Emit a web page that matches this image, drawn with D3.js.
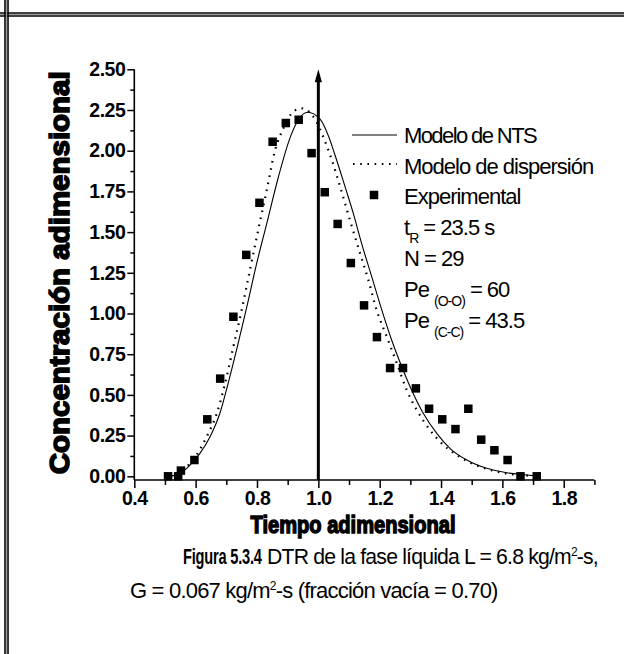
<!DOCTYPE html>
<html>
<head>
<meta charset="utf-8">
<script src="https://cdn.jsdelivr.net/npm/d3@7"></script>
<style>
  body { margin: 0; background: #fff; }
  svg { display: block; font-family: "Liberation Sans", Arial, sans-serif; }
</style>
</head>
<body>
<div id="chart"></div>
<script>
// experimental points (tiempo adimensional, concentración adimensional)
const expX = [0.510, 0.543, 0.552, 0.596, 0.638, 0.680, 0.723, 0.765, 0.808, 0.851,
              0.894, 0.936, 0.978, 1.021, 1.063, 1.106, 1.149, 1.191, 1.234, 1.276,
              1.318, 1.361, 1.404, 1.447, 1.489, 1.531, 1.574, 1.617, 1.659, 1.712];
const expY = [0.00, 0.00, 0.035, 0.10, 0.35, 0.60, 0.98, 1.36, 1.68, 2.055,
              2.17, 2.19, 1.985, 1.745, 1.55, 1.31, 1.05, 0.855, 0.665, 0.665,
              0.54, 0.415, 0.35, 0.29, 0.415, 0.225, 0.16, 0.10, 0.00, 0.00];

// modelo de NTS (solid)
const ntsX = [0.510, 0.527, 0.550, 0.571, 0.592, 0.614, 0.647, 0.679, 0.706, 0.736,
              0.767, 0.799, 0.832, 0.870, 0.908, 0.935, 0.965, 1.005, 1.033, 1.054,
              1.087, 1.114, 1.141, 1.174, 1.207, 1.239, 1.272, 1.304, 1.342, 1.386,
              1.429, 1.484, 1.549, 1.614, 1.679, 1.725];
const ntsY = [0.000, 0.004, 0.022, 0.049, 0.090, 0.141, 0.243, 0.387, 0.571, 0.796,
              1.042, 1.308, 1.554, 1.840, 2.080, 2.190, 2.236, 2.195, 2.090, 1.975,
              1.779, 1.615, 1.431, 1.226, 1.021, 0.837, 0.673, 0.530, 0.387, 0.264,
              0.172, 0.100, 0.049, 0.022, 0.008, 0.000];

// modelo de dispersión (dotted)
const dispX = [0.515, 0.560, 0.603, 0.636, 0.669, 0.696, 0.723, 0.750, 0.777, 0.804,
               0.832, 0.859, 0.886, 0.921, 0.946, 0.990, 1.016, 1.044, 1.071, 1.103,
               1.136, 1.163, 1.190, 1.223, 1.256, 1.288, 1.321, 1.364, 1.408, 1.451,
               1.500, 1.550, 1.610, 1.670, 1.725];
const dispY = [0.000, 0.039, 0.131, 0.243, 0.387, 0.571, 0.796, 1.021, 1.267, 1.513,
               1.759, 2.004, 2.137, 2.244, 2.260, 2.190, 2.085, 1.943, 1.779, 1.574,
               1.370, 1.206, 1.021, 0.858, 0.694, 0.530, 0.407, 0.284, 0.192, 0.131,
               0.080, 0.045, 0.018, 0.006, 0.000];

const xTicks = [0.4, 0.6, 0.8, 1.0, 1.2, 1.4, 1.6, 1.8];
const xMinor = [0.5, 0.7, 0.9, 1.1, 1.3, 1.5, 1.7, 1.9];
const yTicks = [0, 0.25, 0.5, 0.75, 1.0, 1.25, 1.5, 1.75, 2.0, 2.25, 2.5];
const yMinor = [0.125, 0.375, 0.625, 0.875, 1.125, 1.375, 1.625, 1.875, 2.125, 2.375];
const legendLabels = ["Modelo de NTS", "Modelo de dispersión", "Experimental"];
const arrowAt = 1.0;

const width = 624, height = 654;
const axisY = 480;

const svg = d3.select('#chart').append('svg')
  .attr('width', width)
  .attr('height', height)
  .style('background', '#fff');

// page frame (double rule, top and left)
const frame = svg.append('g');
[13, 16].forEach(yy =>
  frame.append('line').attr('x1', 0).attr('x2', width).attr('y1', yy).attr('y2', yy)
    .attr('stroke', '#000').attr('stroke-width', 1.6));
frame.append('line').attr('x1', 0).attr('x2', width).attr('y1', 14.5).attr('y2', 14.5)
  .attr('stroke', '#999').attr('stroke-width', 1.2);
[5, 8].forEach(xx =>
  frame.append('line').attr('x1', xx).attr('x2', xx).attr('y1', 0).attr('y2', height)
    .attr('stroke', '#000').attr('stroke-width', 1.6));
frame.append('line').attr('x1', 6.5).attr('x2', 6.5).attr('y1', 0).attr('y2', height)
  .attr('stroke', '#999').attr('stroke-width', 1.2);

const x = d3.scaleLinear().domain([0.4, 1.9]).range([134.3, 594.4]);
const y = d3.scaleLinear().domain([0, 2.5]).range([476.3, 69.3]);

// axes
const xAxis = svg.append('g').attr('transform', `translate(0,${axisY})`)
  .call(d3.axisBottom(x).tickValues(xTicks).tickSize(8).tickSizeOuter(0).tickPadding(3)
    .tickFormat(d3.format('.1f')));
svg.append('g').attr('transform', `translate(0,${axisY})`)
  .call(d3.axisBottom(x).tickValues(xMinor).tickSize(5).tickSizeOuter(0).tickFormat(''));

const yAxis = svg.append('g').attr('transform', 'translate(134.3,0)')
  .call(d3.axisLeft(y).tickValues(yTicks).tickSize(7).tickSizeOuter(0).tickPadding(2)
    .tickFormat(d3.format('.2f')));
svg.append('g').attr('transform', 'translate(134.3,0)')
  .call(d3.axisLeft(y).tickValues(yMinor).tickSize(4).tickSizeOuter(0).tickFormat(''));

svg.selectAll('.domain').remove();
svg.selectAll('.tick line').attr('stroke', '#000').attr('stroke-width', 1.5);
svg.selectAll('.tick text')
  .attr('fill', '#000')
  .style('font-family', '"Liberation Sans", Arial, sans-serif')
  .style('font-weight', 'bold')
  .style('font-size', '19.5px')
  .style('letter-spacing', '-0.5px');
xAxis.selectAll('.tick text').attr('dy', '0.74em');

// axis lines drawn from the scales
svg.append('line')
  .attr('x1', x.range()[0]).attr('x2', x.range()[1])
  .attr('y1', axisY).attr('y2', axisY)
  .attr('stroke', '#000').attr('stroke-width', 1.6);
svg.append('line')
  .attr('x1', x.range()[0]).attr('x2', x.range()[0])
  .attr('y1', y(2.5)).attr('y2', axisY)
  .attr('stroke', '#000').attr('stroke-width', 1.6);

// curves
const line = d3.line().curve(d3.curveMonotoneX)
  .x(d => x(d[0])).y(d => y(d[1]));

svg.append('path')
  .datum(ntsX.map((v, i) => [v, ntsY[i]]))
  .attr('d', line)
  .attr('fill', 'none').attr('stroke', '#000').attr('stroke-width', 1.1);

svg.append('path')
  .datum(dispX.map((v, i) => [v, dispY[i]]))
  .attr('d', line)
  .attr('fill', 'none').attr('stroke', '#000').attr('stroke-width', 2.2)
  .attr('stroke-dasharray', '1.6 5.6');

// experimental squares
const sq = 8.5;
svg.selectAll('rect.exp')
  .data(expX.map((v, i) => [v, expY[i]]))
  .enter().append('rect')
  .attr('class', 'exp')
  .attr('x', d => x(d[0]) - sq / 2)
  .attr('y', d => y(d[1]) - sq / 2)
  .attr('width', sq).attr('height', sq)
  .attr('fill', '#000');

// arrow at t = tR
const ax = x(arrowAt);
svg.append('line')
  .attr('x1', ax).attr('x2', ax)
  .attr('y1', axisY).attr('y2', y(2.5) + 10)
  .attr('stroke', '#000').attr('stroke-width', 3);
svg.append('path')
  .attr('d', `M${ax},${y(2.5)} L${ax - 3.6},${y(2.5) + 13} L${ax + 3.6},${y(2.5) + 13} Z`)
  .attr('fill', '#000');

// legend
const lg = svg.append('g').style('font-size', '22px').style('letter-spacing', '-1px');
lg.append('line').attr('x1', 352).attr('x2', 397).attr('y1', 135).attr('y2', 135)
  .attr('stroke', '#000').attr('stroke-width', 1.1);
lg.append('line').attr('x1', 353).attr('x2', 397).attr('y1', 164).attr('y2', 164)
  .attr('stroke', '#000').attr('stroke-width', 2.2).attr('stroke-dasharray', '1.6 5.6');
lg.append('rect').attr('x', 374 - sq / 2).attr('y', 195 - sq / 2)
  .attr('width', sq).attr('height', sq).attr('fill', '#000');
legendLabels.forEach((t, i) =>
  lg.append('text').attr('x', 404).attr('y', 143 + i * 30.5)
    .style('letter-spacing', i === 0 ? '-1.6px' : null).text(t));

const tr = lg.append('text').attr('x', 404).attr('y', 235);
tr.append('tspan').text('t');
tr.append('tspan').attr('dy', 8).style('font-size', '14px').text('R');
tr.append('tspan').attr('dy', -8).text(' = 23.5 s');

lg.append('text').attr('x', 404).attr('y', 266).text('N = 29');

[['(O-O)', '= 60', 297], ['(C-C)', '= 43.5', 328]].forEach(p => {
  const t = lg.append('text').attr('x', 404).attr('y', p[2]);
  t.append('tspan').text('Pe ');
  t.append('tspan').attr('dy', 9).style('font-size', '14px').text(p[0]);
  t.append('tspan').attr('dy', -9).text(' ' + p[1]);
});

// axis titles
svg.append('text')
  .attr('transform', 'translate(69,' + ((y(0) + y(2.5)) / 2) + ') rotate(-90)')
  .attr('text-anchor', 'middle')
  .attr('textLength', 403).attr('lengthAdjust', 'spacingAndGlyphs')
  .style('font-size', '28px').style('font-weight', 'bold')
  .attr('stroke', '#000').attr('stroke-width', 1.6)
  .text('Concentración adimensional');

svg.append('text')
  .attr('x', 353).attr('y', 533)
  .attr('text-anchor', 'middle')
  .attr('textLength', 205).attr('lengthAdjust', 'spacingAndGlyphs')
  .style('font-size', '24px').style('font-weight', 'bold')
  .attr('stroke', '#000').attr('stroke-width', 1.4)
  .text('Tiempo adimensional');

// caption
const cap = svg.append('g').style('letter-spacing', '-0.8px');
// bold figure number is set condensed, as in the source document
cap.append('text')
  .attr('transform', 'translate(183,564) scale(0.68,1)')
  .style('font-weight', 'bold').style('font-size', '21.5px').style('letter-spacing', '-0.3px')
  .text('Figura 5.3.4');
const c1 = cap.append('text').attr('x', 267).attr('y', 564).style('font-size', '21.2px');
c1.append('tspan').text('DTR de la fase líquida L = 6.8 kg/m');
c1.append('tspan').attr('dy', -8).style('font-size', '12px').text('2');
c1.append('tspan').attr('dy', 8).text('-s,');

const c2 = cap.append('text').attr('x', 130).attr('y', 598).style('font-size', '22px');
c2.append('tspan').text('G = 0.067 kg/m');
c2.append('tspan').attr('dy', -8).style('font-size', '12px').text('2');
c2.append('tspan').attr('dy', 8).text('-s (fracción vacía = 0.70)');
</script>
</body>
</html>
